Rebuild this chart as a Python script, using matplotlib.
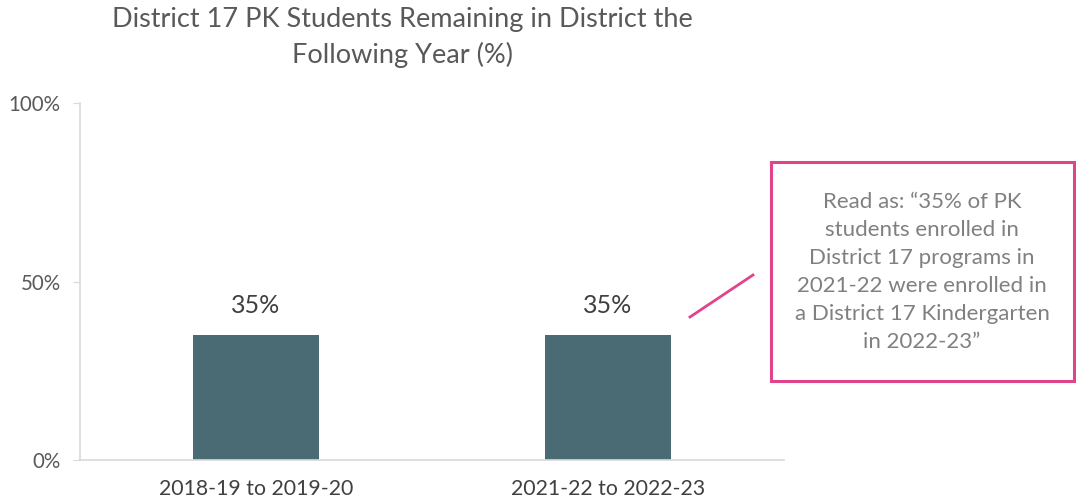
import numpy as np
import matplotlib.pyplot as plt
from matplotlib.patches import Rectangle

plt.rcParams['font.family'] = ['Lato', 'DejaVu Sans']

categories = ["2018-19 to 2019-20", "2021-22 to 2022-23"]
values = [35, 35]
yticks = [0, 50, 100]
note = ("Read as: \u201c35% of PK\nstudents enrolled in\nDistrict 17 programs in\n"
        "2021-22 were enrolled in\na District 17 Kindergarten\nin 2022-23\u201d")

fig = plt.figure(figsize=(10.76, 5.04), dpi=100)
ax = fig.add_axes([80 / 1076, 44 / 504, 704 / 1076, 357 / 504])

x = np.arange(len(categories))
ax.bar(x, values, width=0.36, color="#4a6b73")
for xi, v in zip(x, values):
    ax.text(xi, v + 5, "{}%".format(v), ha="center", va="bottom",
            fontsize=18, color="#404040")

ax.set_xlim(-0.5, 1.5)
ax.set_ylim(0, 100)
ax.set_yticks(yticks)
ax.set_yticklabels(["{}%".format(t) for t in yticks])
ax.set_xticks(x)
ax.set_xticklabels(categories)
for s in ["top", "right"]:
    ax.spines[s].set_visible(False)
for s in ["left", "bottom"]:
    ax.spines[s].set_color("#d9d9d9")
    ax.spines[s].set_linewidth(1.2)
ax.tick_params(axis="y", colors="#d9d9d9", labelcolor="#595959", labelsize=14.8,
               length=5, pad=9)
ax.tick_params(axis="x", length=0, labelcolor="#404040", labelsize=15.3, pad=14)

fig.text(402 / 1076, 1 - 20 / 504, "District 17 PK Students Remaining in District the",
         ha="center", va="center", fontsize=19.5, color="#595959")
fig.text(402 / 1076, 1 - 55 / 504, "Following Year (%)",
         ha="center", va="center", fontsize=19.5, color="#595959")

# callout
box = Rectangle((771 / 1076, 1 - 381 / 504), 303 / 1076, 219 / 504,
                transform=fig.transFigure, fill=False, edgecolor="#e0458b",
                linewidth=2.2)
fig.add_artist(box)
fig.add_artist(plt.Line2D([690 / 1076, 753 / 1076], [1 - 317 / 504, 1 - 275 / 504],
                          transform=fig.transFigure, color="#e0458b", linewidth=2))
fig.text(922 / 1076, 1 - 272 / 504, note, ha="center", va="center",
         fontsize=16, color="#808080", linespacing=1.5)

fig.savefig("out.png", dpi=100)
